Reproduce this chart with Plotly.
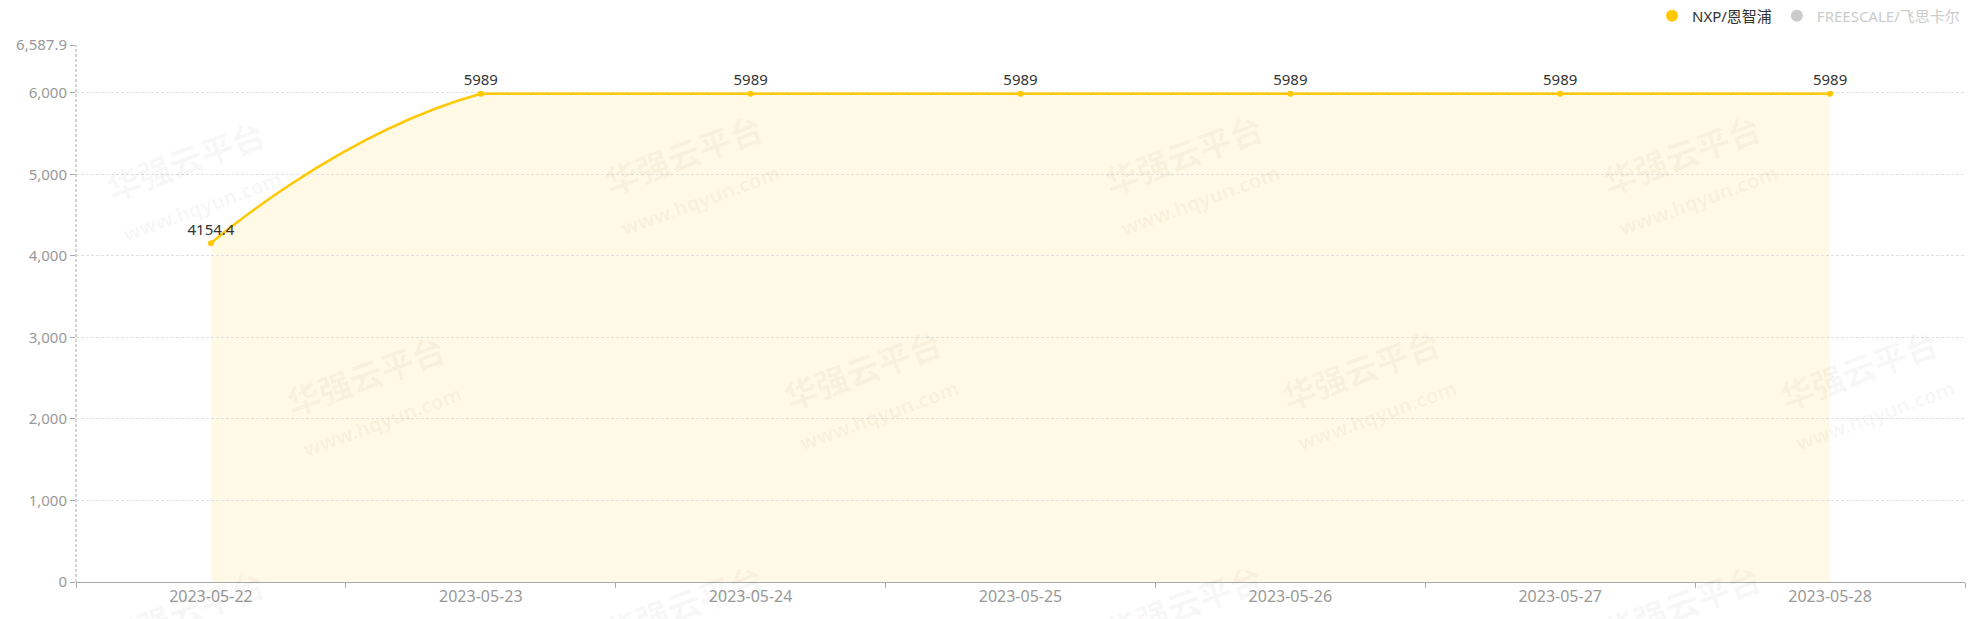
import math
import plotly.graph_objects as go

# ---------------- data ----------------
dates = ["2023-05-22", "2023-05-23", "2023-05-24", "2023-05-25",
         "2023-05-26", "2023-05-27", "2023-05-28"]
nxp_values = [4154.4, 5989, 5989, 5989, 5989, 5989, 5989]
nxp_labels = ["4154.4", "5989", "5989", "5989", "5989", "5989", "5989"]
freescale_values = [None, None, None, None, None, None, None]   # series hidden in the legend
series_names = ["NXP/恩智浦", "FREESCALE/飞思卡尔"]
y_max = 6587.9
y_tickvals = [0, 1000, 2000, 3000, 4000, 5000, 6000, 6587.9]
y_ticktext = ["0", "1,000", "2,000", "3,000", "4,000", "5,000", "6,000", "6,587.9"]

# ---------------- layout constants ----------------
FIG_W, FIG_H = 1976, 619
M = dict(l=76, r=11, t=45, b=37, autoexpand=False)
PLOT_W = FIG_W - M["l"] - M["r"]
PLOT_H = FIG_H - M["t"] - M["b"]
LINE_COLOR = "#FFC800"
FILL_COLOR = "rgba(255,200,0,0.10)"
FONT = "Noto Sans, Noto Sans CJK SC, sans-serif"

n = len(dates)
px_x = PLOT_W / n            # pixels per category
px_y = PLOT_H / y_max        # pixels per value unit

# smooth curve (bezier, smooth = 0.5, control points constrained to the bounding box)
pts = [(i * px_x, v * px_y) for i, v in enumerate(nxp_values)]
smooth = 0.5
min_y = min(p[1] for p in pts); max_y = max(p[1] for p in pts)
min_x = pts[0][0]; max_x = pts[-1][0]
cps = []
for i, p in enumerate(pts):
    if i == 0 or i == n - 1:
        cps.append((p, p)); continue
    prev, nxt = pts[i - 1], pts[i + 1]
    vx, vy = (nxt[0] - prev[0]) * smooth, (nxt[1] - prev[1]) * smooth
    d0 = math.hypot(p[0] - prev[0], p[1] - prev[1])
    d1 = math.hypot(nxt[0] - p[0], nxt[1] - p[1])
    s = d0 + d1
    if s:
        d0, d1 = d0 / s, d1 / s
    c0 = [p[0] - vx * d0, p[1] - vy * d0]
    c1 = [p[0] + vx * d1, p[1] + vy * d1]
    for c in (c0, c1):
        c[0] = min(max(c[0], min_x), max_x)
        c[1] = min(max(c[1], min_y), max_y)
    cps.append((tuple(c0), tuple(c1)))

def to_data(pt):
    return pt[0] / px_x, pt[1] / px_y

segs = []
for i in range(n - 1):
    a = to_data(cps[i][1]); b = to_data(cps[i + 1][0]); e = to_data(pts[i + 1])
    segs.append(f"C{a[0]:.5f},{a[1]:.3f} {b[0]:.5f},{b[1]:.3f} {e[0]:.5f},{e[1]:.3f}")
start = to_data(pts[0])
line_path = f"M{start[0]:.5f},{start[1]:.3f} " + " ".join(segs)
last = to_data(pts[-1])
fill_path = line_path + f" L{last[0]:.5f},0 L{start[0]:.5f},0 Z"

fig = go.Figure()
fig.add_trace(go.Scatter(
    x=dates, y=nxp_values, name=series_names[0], mode="markers+text",
    text=nxp_labels, textposition="top center",
    textfont=dict(size=15, color="#333333", family=FONT),
    marker=dict(color=LINE_COLOR, size=6), cliponaxis=False,
    hoverinfo="x+y",
))
fig.add_trace(go.Scatter(
    x=dates, y=freescale_values,
    name=f'<span style="color:#999999">{series_names[1]}</span>',
    mode="markers", marker=dict(color="#999999", size=6), visible="legendonly",
))

shapes = [
    dict(type="path", path=fill_path, xref="x", yref="y", layer="below",
         fillcolor=FILL_COLOR, line=dict(width=0)),
    dict(type="path", path=line_path, xref="x", yref="y", layer="between",
         line=dict(color=LINE_COLOR, width=2.5)),
    # dashed y axis line
    dict(type="line", xref="paper", yref="paper", x0=0, x1=0, y0=0, y1=1,
         line=dict(color="#aaaaaa", width=1, dash="3px,2px"), layer="above"),
]

# watermarks
wm_centers = [(192, 180), (690, 174), (1190, 174), (1688, 174),
              (372, 395), (869, 389), (1367, 389), (1865, 389),
              (192, 630), (690, 624), (1190, 624), (1688, 624)]
annotations = []
for (cx, cy) in wm_centers:
    annotations.append(dict(
        xref="paper", yref="paper", xanchor="center", yanchor="middle",
        x=(cx - M["l"]) / PLOT_W, y=(FIG_H - M["b"] - cy) / PLOT_H,
        text="<b>华强云平台</b><br><b><span style='font-size:20px'>www.hqyun.com</span></b>",
        showarrow=False, textangle=-20,
        font=dict(size=33, color="rgba(0,0,0,0.045)", family=FONT),
    ))

fig.update_layout(
    width=FIG_W, height=FIG_H, margin=M,
    paper_bgcolor="white", plot_bgcolor="white",
    font=dict(family=FONT, size=15, color="#999999"),
    shapes=shapes, annotations=annotations,
    showlegend=True,
    legend=dict(orientation="h", x=1, xanchor="right", y=1 + (M["t"] - 16) / PLOT_H,
                yanchor="middle", font=dict(size=15, color="#333333", family=FONT),
                itemwidth=30, itemsizing="constant", bgcolor="rgba(0,0,0,0)"),
    xaxis=dict(type="category", range=[-0.5, n - 0.5], showgrid=False,
               showline=True, linecolor="#aaaaaa", linewidth=1,
               ticks="outside", tickson="boundaries", ticklen=5, tickcolor="#aaaaaa",
               tickfont=dict(size=16, color="#999999"), zeroline=False, fixedrange=True),
    yaxis=dict(range=[0, y_max], tickmode="array", tickvals=y_tickvals, ticktext=y_ticktext,
               showgrid=True, gridcolor="#e0e0e0", griddash="3px,2px", gridwidth=1,
               showline=False, zeroline=False, ticks="outside", ticklen=5,
               tickcolor="#aaaaaa", tickfont=dict(size=15, color="#999999"),
               fixedrange=True),
)

fig.write_html("out.html")
